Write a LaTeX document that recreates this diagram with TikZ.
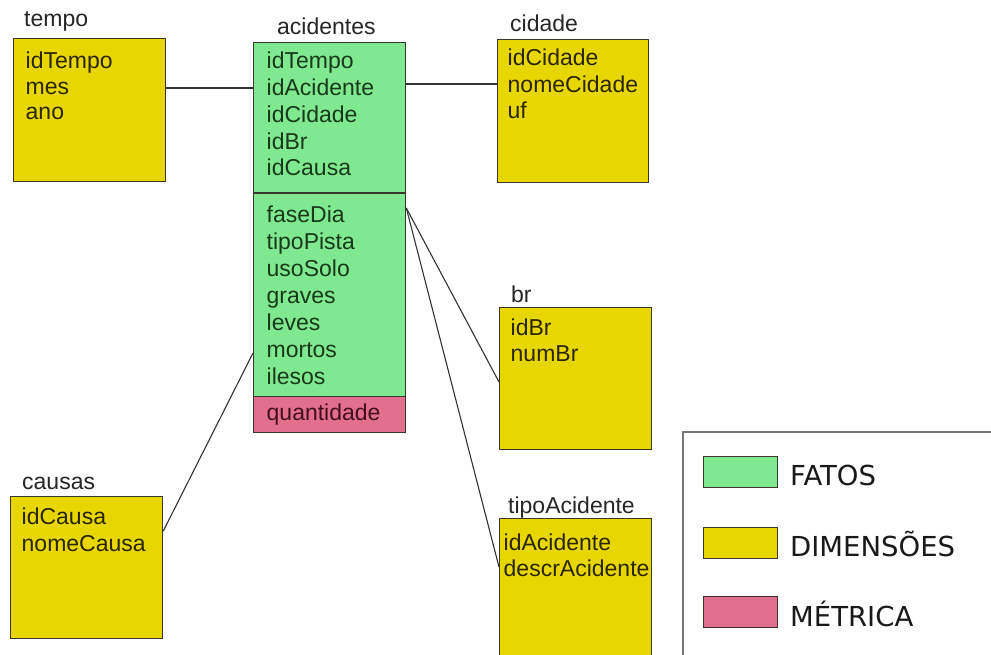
\documentclass[tikz,border=0pt]{standalone}
\usepackage{fontspec}
\usetikzlibrary{calc}
\newfontfamily\tabfont{Liberation Sans}
\newfontfamily\legfont{DejaVu Sans}

\definecolor{dimyellow}{HTML}{E8D600}
\definecolor{factgreen}{HTML}{80E890}
\definecolor{metpink}{HTML}{E2708C}
\definecolor{edgecol}{HTML}{3A382C}
\definecolor{txtdim}{HTML}{2A2600}
\definecolor{txtfact}{HTML}{163A1A}
\definecolor{txtmet}{HTML}{420E20}
\definecolor{legframe}{HTML}{777777}

\tikzset{
  tbl/.style={draw=edgecol, line width=1.3pt, anchor=north west, inner sep=0pt, minimum width=152pt},
  dimbox/.style={tbl, fill=dimyellow},
  factbox/.style={tbl, fill=factgreen},
  metbox/.style={tbl, fill=metpink},
  field/.style={anchor=base west, inner sep=0pt, text=txtdim, font=\tabfont\fontsize{23}{26}\selectfont},
  tabtitle/.style={anchor=base west, inner sep=0pt, text=black!85, font=\tabfont\fontsize{23}{26}\selectfont},
  link/.style={draw=black!80, line width=1.1pt},
  swatch/.style={draw=edgecol, line width=1.2pt, anchor=north west, inner sep=0pt, minimum width=74pt, minimum height=31pt},
  legtext/.style={anchor=base west, inner sep=0pt, text=black!90, font=\legfont\fontsize{27.5}{32}\selectfont},
}

% list of fields, one node per line: x, first baseline, line step, name prefix, texts
\newcommand{\fieldlist}[6][]{%
  \foreach \t [count=\i] in {#6}
    \node[field,#1] (#5\i) at (#2, #3+\i*#4-#4) {\t};%
}

\begin{document}
\begin{tikzpicture}[x=1pt, y=-1pt]
\clip (0,0) rectangle (991,655);
\fill[white] (0,0) rectangle (991,655);

% dimension tables
\node[dimbox, minimum height=143pt] (tempo) at (13,38) {};
\node[dimbox, minimum width=151pt, minimum height=143pt] (cidade) at (497,39) {};
\node[dimbox, minimum height=142pt] (br) at (499,307) {};
\node[dimbox, minimum height=160pt] (tipoAcidente) at (499,518) {};
\node[dimbox, minimum height=142pt] (causas) at (10,496) {};

% fact table with its measure row
\node[factbox, minimum height=354pt] (acidentes) at (253,42) {};
\node[metbox, minimum height=36pt] (metrica) at (253,396) {};
\draw[draw=edgecol, line width=1.3pt] ($(acidentes.north west)+(0,151)$) -- ($(acidentes.north east)+(0,151)$);

% titles
\node[tabtitle] (ttempo) at (24,27) {tempo};
\node[tabtitle] (tacid) at (277,35) {acidentes};
\node[tabtitle] (tcid) at (510,32) {cidade};
\node[tabtitle] (tbr) at (511,302) {br};
\node[tabtitle] (ttipo) at (508,513) {tipoAcidente};
\node[tabtitle] (tcaus) at (22,489) {causas};

% fields
\fieldlist{25.5}{69}{25.5}{ftempo}{idTempo,mes,ano}
\fieldlist[text=txtfact]{266.5}{69}{26.75}{fkey}{idTempo,idAcidente,idCidade,idBr,idCausa}
\fieldlist[text=txtfact]{266.5}{222.5}{27}{fatt}{faseDia,tipoPista,usoSolo,graves,leves,mortos,ilesos}
\node[field, text=txtmet] (fmet) at (266.5,420.5) {quantidade};
\fieldlist{507.5}{66}{26.5}{fcid}{idCidade,nomeCidade,uf}
\fieldlist{510.5}{335}{26}{fbr}{idBr,numBr}
\fieldlist{503.5}{550}{26}{ftipo}{idAcidente,descrAcidente}
\fieldlist{21.5}{524}{27}{fcaus}{idCausa,nomeCausa}

% connectors
\draw[link] ($(tempo.north east)+(0,50)$) -- ($(acidentes.north west)+(0,46)$);
\draw[link] ($(acidentes.north east)+(0,42)$) -- ($(cidade.north west)+(0,45)$);
\draw[link] ($(acidentes.north east)+(0,166)$) -- ($(br.north west)+(0,75)$);
\draw[link] ($(acidentes.north east)+(0,166)$) -- ($(tipoAcidente.north west)+(0,49)$);
\draw[link] ($(causas.north east)+(0,35)$) -- ($(acidentes.north west)+(0,311)$);

% legend
\node[draw=legframe, line width=2pt, anchor=north west, inner sep=0pt, minimum width=340pt, minimum height=260pt] (legenda) at (682,431) {};
\node[swatch, fill=factgreen] (sfatos) at (703,456) {};
\node[swatch, fill=dimyellow] (sdim) at (703,527) {};
\node[swatch, fill=metpink] (smet) at (703,596) {};
\node[legtext] (lfatos) at (790,485) {FATOS};
\node[legtext] (ldim) at (790,556.5) {DIMENSÕES};
\node[legtext] (lmet) at (790,626.5) {MÉTRICA};
\end{tikzpicture}
\end{document}
